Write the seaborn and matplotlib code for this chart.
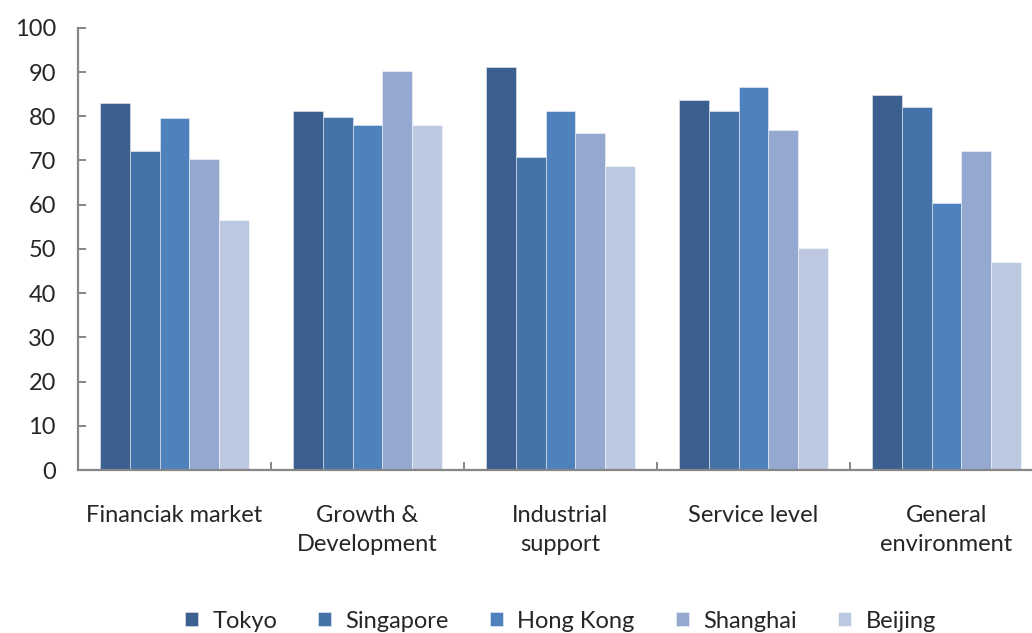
import pandas as pd
import seaborn as sns
import matplotlib.pyplot as plt
from matplotlib.ticker import FixedLocator

## data
categories = ["Financiak market", "Growth &\nDevelopment", "Industrial\nsupport",
              "Service level", "General\nenvironment"]
cities = ["Tokyo", "Singapore", "Hong Kong", "Shanghai", "Beijing"]

tokyo = [83.0, 81.3, 91.2, 83.6, 84.9]
singapore = [72.2, 79.9, 70.9, 81.3, 82.1]
hong_kong = [79.5, 78.1, 81.3, 86.7, 60.5]
shanghai = [70.4, 90.2, 76.3, 76.8, 72.2]
beijing = [56.5, 78.1, 68.7, 50.1, 47.0]

colors = ["#3b5f8e", "#4572a7", "#4f81bd", "#95a9d0", "#bdc9e1"]

rows = []
for city, vals in zip(cities, [tokyo, singapore, hong_kong, shanghai, beijing]):
    for cat, v in zip(categories, vals):
        rows.append({"Category": cat, "City": city, "Score": v})
df = pd.DataFrame(rows)

sns.set_style("white")
plt.rcParams['font.family'] = ['Lato', 'DejaVu Sans']

fig = plt.figure(figsize=(10.32, 6.33), dpi=100)
ax = fig.add_axes([0.0756, 0.2575, 0.935, 0.6985])

sns.barplot(data=df, x="Category", y="Score", hue="City", order=categories,
            hue_order=cities, palette=colors, saturation=1, width=0.77, gap=0,
            edgecolor=(1, 1, 1, 0.45), linewidth=0.7, ax=ax)

ax.set_xlim(-0.5, 4.5)
ax.set_ylim(0, 100)
ax.set_yticks(range(0, 101, 10))
ax.set_xlabel("")
ax.set_ylabel("")

for s in ["top", "right"]:
    ax.spines[s].set_visible(False)
for s in ["left", "bottom"]:
    ax.spines[s].set_color("#868686")
    ax.spines[s].set_linewidth(1.6)

ax.tick_params(axis="y", direction="in", length=6, width=1.4, color="#868686",
               labelsize=17, pad=16, left=True)
ax.tick_params(axis="x", which="major", length=0, labelsize=17, pad=25)
ax.xaxis.set_minor_locator(FixedLocator([0.5, 1.5, 2.5, 3.5, 4.5]))
ax.tick_params(axis="x", which="minor", direction="in", length=6, width=1.4,
               color="#868686", bottom=True)
for lab in ax.get_xticklabels():
    lab.set_verticalalignment("top")
    lab.set_linespacing(1.5)

handles, labels = ax.get_legend_handles_labels()
ax.legend(handles, labels, loc="upper center", bbox_to_anchor=(0.5, -0.27),
          ncol=5, frameon=False, fontsize=17, handlelength=0.55,
          handleheight=0.55, handletextpad=0.6, columnspacing=1.75)

plt.savefig("out.png", dpi=100)
